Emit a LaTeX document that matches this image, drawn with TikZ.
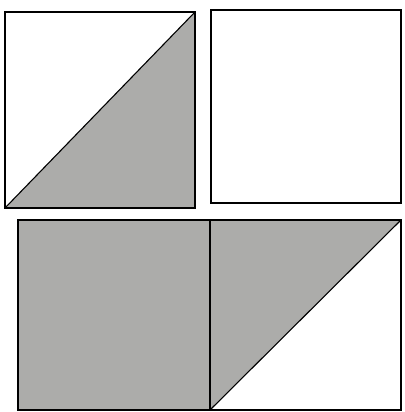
\documentclass[tikz,border=0pt]{standalone}
\usepackage{tikz}
\definecolor{tilegray}{RGB}{172,172,170}

\begin{document}
\begin{tikzpicture}[x=1pt,y=1pt,line width=1.1pt]
        \useasboundingbox (0,0) rectangle (404,412);
        % top left square, lower right half shaded
        \fill[tilegray] (5,204)--(195,204)--(195,400)--cycle;
        \draw (5,204) rectangle (195,400);
        \draw (5,204)--(195,400);
        % top right square, empty
        \draw (211,209) rectangle (401,402);
        % bottom rectangle: full square and half square
        \fill[tilegray] (18,2) rectangle (210,192);
        \fill[tilegray] (210,192)--(401,192)--(210,2)--cycle;
        \draw (18,2) rectangle (401,192);
        \draw (210,2)--(210,192);
        \draw (210,2)--(401,192);
      \end{tikzpicture}
\end{document}
